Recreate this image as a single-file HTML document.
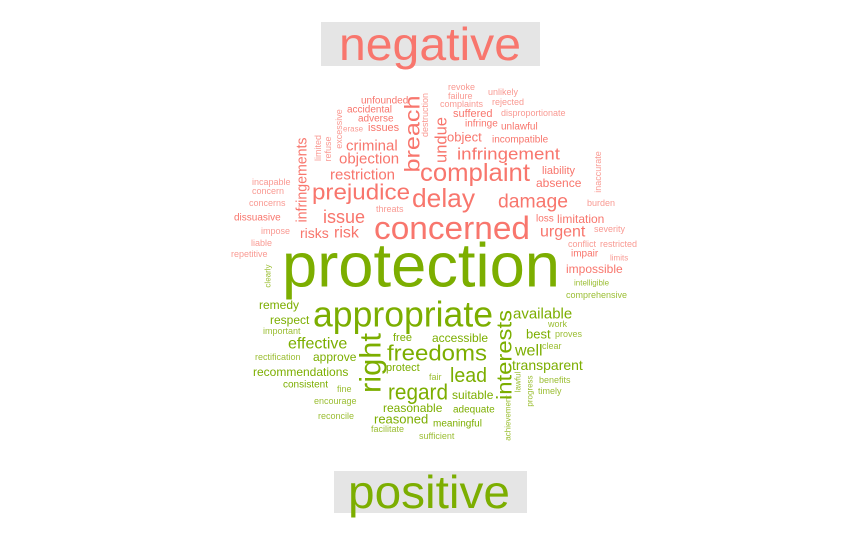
<!DOCTYPE html>
<html><head><meta charset="utf-8"><style>
html,body{margin:0;padding:0;background:#fff;}
svg{display:block;font-family:"Liberation Sans",Arial,sans-serif;}
</style></head><body>
<svg id="cloud" width="862" height="538" viewBox="0 0 862 538">
<rect x="321" y="22" width="219" height="44" fill="#e5e5e5"/>
<text x="339" y="44" font-size="46" fill="#F8766D" textLength="182" lengthAdjust="spacingAndGlyphs" dominant-baseline="central">negative</text>
<rect x="334" y="471" width="193" height="42" fill="#e5e5e5"/>
<text x="348" y="492" font-size="46" fill="#7CAE00" textLength="162" lengthAdjust="spacingAndGlyphs" dominant-baseline="central">positive</text>
</svg>
<script>
// [word, group(0 neg,1 pos), x-left or center(vertical), y-center, size, vertical, width]
const words=[
["revoke",0,448,87,9,0],["unlikely",0,488,92,9,0],["failure",0,448,96,9,0],["complaints",0,440,104,9,0],
["rejected",0,492,102,9,0],["unfounded",0,361,101,10,0],["destruction",0,425,115,9,1],["accidental",0,347,110,10,0],
["suffered",0,453,114,11,0],["disproportionate",0,501,113,9,0],["excessive",0,339,129,9,1],["adverse",0,358,119,10,0],
["infringe",0,465,124,10,0],["unlawful",0,501,127,10,0],["erase",0,343,129,8,0],["issues",0,368,128,11,0],
["breach",0,413,134,21,1,77],["undue",0,441,140,17,1,46],["object",0,447,137,13,0],["incompatible",0,492,140,10,0],
["limited",0,318,148,9,1],["refuse",0,328,149,9,1],["infringements",0,302,180,15,1,85],["criminal",0,346,146,15,0],
["infringement",0,457,154,17,0,103],["objection",0,339,159,15,0],["complaint",0,420,173,25,0,110],
["inaccurate",0,598,172,9,1],["liability",0,542,171,11,0],["restriction",0,330,175,15,0],
["prejudice",0,312,192,22,0,98],["absence",0,536,183,12,0],["delay",0,412,198,26,0,63],["damage",0,498,202,19,0,70],
["incapable",0,252,182,9,0],["concern",0,252,191,9,0],["concerns",0,249,203,9,0],["burden",0,587,203,9,0],
["threats",0,376,209,9,0],["issue",0,323,217,18,0],["limitation",0,557,219,12,0],["loss",0,536,219,10,0],
["dissuasive",0,234,218,10,0],["concerned",0,374,228,32,0,156],["urgent",0,540,232,16,0],["severity",0,594,229,9,0],
["risks",0,300,233,14,0],["risk",0,334,233,16,0],["impose",0,261,231,9,0],["liable",0,251,243,9,0],
["conflict",0,568,244,9,0],["restricted",0,600,244,9,0],["repetitive",0,231,254,9,0],["impair",0,571,254,10,0],
["limits",0,610,258,8,0],["impossible",0,566,269,12,0],
["protection",1,282,266,62,0,278],["clearly",1,268,276,8,1],["intelligible",1,574,283,8,0],["comprehensive",1,566,295,9,0],
["remedy",1,259,305,12,0],["appropriate",1,313,314,36,0,180],["interests",1,505,355,21,1,90],["available",1,513,314,15,0],
["work",1,548,324,9,0],["respect",1,270,320,12,0],["important",1,263,331,9,0],["best",1,526,334,13,0],["proves",1,555,334,9,0],
["free",1,393,338,11,0],["accessible",1,432,338,12,0],["effective",1,288,344,16,0],["right",1,371,363,30,1,60],
["freedoms",1,387,353,22,0,100],["well",1,515,351,16,0],["clear",1,542,346,9,0],["rectification",1,255,357,9,0],
["approve",1,313,357,12,0],["transparent",1,512,365,14,0],["recommendations",1,253,372,12,0],["protect",1,386,368,11,0],
["lead",1,450,376,20,0,37],["fair",1,429,377,9,0],["lawful",1,518,382,8,1],["progress",1,530,391,8,1],
["benefits",1,539,380,9,0],["timely",1,538,391,9,0],["consistent",1,283,385,10,0],["fine",1,337,389,9,0],
["regard",1,388,392,22,0,60],["suitable",1,452,395,12,0],["achievement",1,508,418,8,1],["encourage",1,314,401,9,0],
["reasonable",1,383,408,12,0],["adequate",1,453,410,10,0],["reconcile",1,318,416,9,0],["reasoned",1,374,419,13,0],
["meaningful",1,433,424,10,0],["facilitate",1,371,429,9,0],["sufficient",1,419,436,9,0]
];
const svg=document.getElementById('cloud');
const NS='http://www.w3.org/2000/svg';
words.forEach(w=>{
  const t=document.createElementNS(NS,'text');
  t.textContent=w[0];
  const neg=w[1]===0;
  let col=neg?'#F8766D':'#7CAE00';
  if(w[4]<=9) col=neg?'#F99A93':'#9BBE33';
  t.setAttribute('fill',col);
  t.setAttribute('font-size',w[4]);
  t.setAttribute('dominant-baseline','central');
  t.setAttribute('x',w[2]);t.setAttribute('y',w[3]);
  if(w[5]){
    t.setAttribute('text-anchor','middle');
    t.setAttribute('transform','rotate(-90 '+w[2]+' '+w[3]+')');
  }
  if(w[6]){t.setAttribute('textLength',w[6]);t.setAttribute('lengthAdjust','spacingAndGlyphs');}
  
  
  svg.appendChild(t);
});
</script>
</body></html>
